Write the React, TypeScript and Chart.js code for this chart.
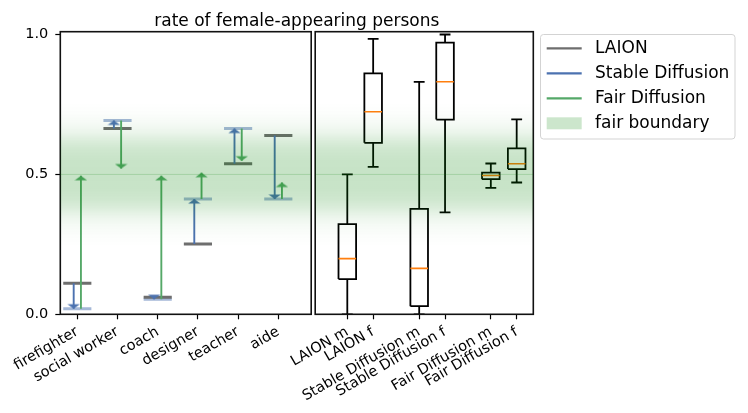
import React, { useEffect, useRef } from 'react';
import { Chart, registerables } from 'chart.js';

Chart.register(...registerables);

// ---------------- data ----------------
const occupations = ['firefighter', 'social worker', 'coach', 'designer', 'teacher', 'aide'];
const laionRates = [0.111, 0.664, 0.061, 0.251, 0.538, 0.639];
const sdRates = [0.02, 0.693, 0.054, 0.412, 0.664, 0.412];
const fdRates = [0.495, 0.521, 0.495, 0.506, 0.549, 0.471];

const boxLabels = ['LAION m', 'LAION f', 'Stable Diffusion m', 'Stable Diffusion f', 'Fair Diffusion m', 'Fair Diffusion f'];
const boxPositions = [1, 2, 3.78, 4.78, 6.55, 7.55];
const boxWhiskerLow = [0.0, 0.527, 0.0, 0.364, 0.452, 0.471];
const boxQ1 = [0.126, 0.613, 0.029, 0.696, 0.483, 0.519];
const boxMedian = [0.199, 0.724, 0.164, 0.831, 0.496, 0.538];
const boxQ3 = [0.3225, 0.861, 0.377, 0.971, 0.506, 0.593];
const boxWhiskerHigh = [0.5, 0.984, 0.831, 1.0, 0.539, 0.697];

const yTicks = [0, 0.5, 1.0];
const fairValue = 0.5;
const titleText = 'rate of female-appearing persons';
const legendLabels = ['LAION', 'Stable Diffusion', 'Fair Diffusion', 'fair boundary'];

// ---------------- style ----------------
const W = 748;
const H = 413;
const FONT = '"DejaVu Sans", "Liberation Sans", sans-serif';
const C_LAION = '#6e6e6e';
const C_SD = '#4c72b0';
const C_SD_LIGHT = 'rgba(76,114,176,0.5)';
const C_FD = '#55a868';
const C_MED = '#ff7f0e';
const TICK_FONT = { family: FONT, size: 14.5 };
const BOX_LW = 1.8;

const Y_MAX = 1.01;
const PLOT_TOP = 31.7;
const PLOT_BOTTOM = 314.3;
const LEFT_L = 60.3;
const LEFT_R = 311.2;
const RIGHT_L = 315.2;
const RIGHT_R = 533.3;

function segData(centers: number[], values: number[], half: number) {
  const out: any[] = [];
  centers.forEach((c, i) => {
    out.push({ x: c - half, y: values[i] }, { x: c + half, y: values[i] }, { x: c, y: null });
  });
  return out;
}

function arrowData(offset: number, from: number[], to: number[]) {
  const out: any[] = [];
  from.forEach((f, i) => {
    out.push(
      { x: i + offset, y: f, head: 0 },
      { x: i + offset, y: to[i], head: to[i] >= f ? 1 : -1 },
      { x: i + offset, y: null, head: 0 }
    );
  });
  return out;
}

function boxOutline() {
  const out: any[] = [];
  const w = 0.34;
  boxPositions.forEach((p, i) => {
    out.push(
      { x: p - w, y: boxQ1[i] },
      { x: p + w, y: boxQ1[i] },
      { x: p + w, y: boxQ3[i] },
      { x: p - w, y: boxQ3[i] },
      { x: p - w, y: boxQ1[i] },
      { x: p, y: null }
    );
  });
  return out;
}

function whiskerData() {
  const out: any[] = [];
  boxPositions.forEach((p, i) => {
    out.push(
      { x: p, y: boxQ3[i] },
      { x: p, y: boxWhiskerHigh[i] },
      { x: p, y: null },
      { x: p, y: boxQ1[i] },
      { x: p, y: boxWhiskerLow[i] },
      { x: p, y: null }
    );
  });
  return out;
}

function makeHead(color: string, up: boolean) {
  const c = document.createElement('canvas');
  c.width = 13;
  c.height = 12;
  const g = c.getContext('2d')!;
  g.fillStyle = color;
  g.beginPath();
  if (up) {
    g.moveTo(6.5, 6);
    g.lineTo(12.7, 10.6);
    g.lineTo(0.3, 10.6);
  } else {
    g.moveTo(6.5, 6);
    g.lineTo(12.7, 1.4);
    g.lineTo(0.3, 1.4);
  }
  g.closePath();
  g.fill();
  return c;
}

const bandPlugin = {
  id: 'bandFrame',
  afterDatasetsDraw(chart: any) {
    const { ctx, chartArea, scales } = chart;
    const y = scales.y;
    const top = y.getPixelForValue(fairValue + 0.26);
    const bot = y.getPixelForValue(fairValue - 0.26);
    // frame
    ctx.save();
    ctx.strokeStyle = '#111';
    ctx.lineWidth = 1.6;
    ctx.strokeRect(chartArea.left, chartArea.top, chartArea.right - chartArea.left, chartArea.bottom - chartArea.top);
    ctx.restore();
    // band
    ctx.save();
    ctx.beginPath();
    ctx.rect(chartArea.left, chartArea.top, chartArea.right - chartArea.left, chartArea.bottom - chartArea.top);
    ctx.clip();
    const g = ctx.createLinearGradient(0, top, 0, bot);
    const prof: [number, number][] = [
      [0, 0.22], [0.05, 0.215], [0.09, 0.19], [0.12, 0.14], [0.15, 0.08], [0.18, 0.04], [0.22, 0.012], [0.26, 0],
    ];
    const stops: [number, number][] = [];
    prof.forEach(([d, a]) => {
      stops.push([0.5 - d / 0.52, a]);
      if (d > 0) stops.push([0.5 + d / 0.52, a]);
    });
    stops.sort((a, b) => a[0] - b[0]);
    stops.forEach(([t, a]) => g.addColorStop(Math.min(1, Math.max(0, t)), `rgba(0,128,0,${a})`));
    ctx.fillStyle = g;
    ctx.fillRect(chartArea.left, top, chartArea.right - chartArea.left, bot - top);
    const y5 = y.getPixelForValue(fairValue);
    ctx.strokeStyle = 'rgba(0,128,0,0.18)';
    ctx.lineWidth = 1;
    ctx.beginPath();
    ctx.moveTo(chartArea.left, y5);
    ctx.lineTo(chartArea.right, y5);
    ctx.stroke();
    ctx.restore();
  },
};

const titlePlugin = {
  id: 'figTitle',
  afterDraw(chart: any) {
    const { ctx } = chart;
    ctx.save();
    ctx.font = `17px ${FONT}`;
    ctx.fillStyle = '#000';
    ctx.textAlign = 'center';
    ctx.textBaseline = 'alphabetic';
    ctx.fillText(titleText, (LEFT_L + RIGHT_R) / 2, 25.5);
    ctx.restore();
  },
};

const legendPlugin = {
  id: 'figLegend',
  afterDraw(chart: any) {
    const { ctx } = chart;
    ctx.save();
    const bx = 540.5, by = 34.5, bw = 194.5, bh = 104.5;
    ctx.beginPath();
    (ctx as any).roundRect(bx, by, bw, bh, 3);
    ctx.fillStyle = 'rgba(255,255,255,0.8)';
    ctx.fill();
    ctx.strokeStyle = '#d3d3d3';
    ctx.lineWidth = 1;
    ctx.stroke();
    const rows = [48.3, 73.3, 98.3, 123.3];
    const colors = [C_LAION, C_SD, C_FD];
    for (let i = 0; i < 3; i++) {
      ctx.strokeStyle = colors[i];
      ctx.lineWidth = 2.2;
      ctx.beginPath();
      ctx.moveTo(546.7, rows[i]);
      ctx.lineTo(581.7, rows[i]);
      ctx.stroke();
    }
    ctx.fillStyle = 'rgba(0,128,0,0.2)';
    ctx.fillRect(546.7, rows[3] - 6, 35, 12);
    ctx.fillStyle = '#000';
    ctx.font = `17px ${FONT}`;
    ctx.textAlign = 'left';
    ctx.textBaseline = 'middle';
    legendLabels.forEach((l, i) => ctx.fillText(l, 595, rows[i] + 0.5));
    ctx.restore();
  },
};

function tickGrid() {
  return {
    display: true,
    drawOnChartArea: false,
    drawTicks: true,
    tickLength: 5,
    tickColor: '#000',
    tickWidth: 1.2,
  };
}

function baseOptions(padding: any, xScale: any, yScale: any) {
  return {
    animation: false,
    responsive: false,
    events: [],
    layout: { padding },
    plugins: { legend: { display: false }, tooltip: { enabled: false }, title: { display: false } },
    elements: { line: { tension: 0 }, point: { radius: 0, hoverRadius: 0 } },
    scales: { x: xScale, y: yScale },
  };
}

export default function App() {
  const leftRef = useRef<HTMLCanvasElement>(null);
  const rightRef = useRef<HTMLCanvasElement>(null);

  useEffect(() => {
    const heads = {
      sdUp: makeHead(C_SD, true),
      sdDown: makeHead(C_SD, false),
      fdUp: makeHead(C_FD, true),
      fdDown: makeHead(C_FD, false),
    };
    const headStyle = (up: HTMLCanvasElement, down: HTMLCanvasElement) => (ctx: any) => {
      const r = ctx.raw;
      if (!r || !r.head) return 'circle';
      return r.head > 0 ? up : down;
    };
    const headRadius = (ctx: any) => (ctx.raw && ctx.raw.head ? 3 : 0);

    const xLeft = {
      type: 'linear',
      min: -0.423,
      max: 5.818,
      border: { display: false },
      grid: tickGrid(),
      afterBuildTicks: (s: any) => {
        s.ticks = occupations.map((_, i) => ({ value: i }));
      },
      afterFit: (s: any) => {
        s.height = H - PLOT_BOTTOM;
      },
      ticks: {
        autoSkip: false,
        minRotation: 30,
        maxRotation: 30,
        padding: 4,
        color: '#000',
        font: TICK_FONT,
        callback: (_v: any, i: number) => occupations[i],
      },
    };
    const yLeft = {
      type: 'linear',
      min: 0,
      max: Y_MAX,
      border: { display: false },
      grid: tickGrid(),
      afterBuildTicks: (s: any) => {
        s.ticks = yTicks.map((v) => ({ value: v }));
      },
      afterFit: (s: any) => {
        s.width = LEFT_L;
      },
      ticks: {
        padding: 7,
        color: '#000',
        font: TICK_FONT,
        callback: (v: any) => Number(v).toFixed(1),
      },
    };

    const left = new Chart(leftRef.current!, {
      type: 'line',
      data: {
        datasets: [
          {
            data: arrowData(0.09, sdRates, fdRates),
            borderColor: C_FD,
            borderWidth: 1.9,
            pointStyle: headStyle(heads.fdUp, heads.fdDown),
            pointRadius: headRadius,
            order: 0,
          },
          {
            data: arrowData(-0.09, laionRates, sdRates),
            borderColor: C_SD,
            borderWidth: 1.9,
            pointStyle: headStyle(heads.sdUp, heads.sdDown),
            pointRadius: headRadius,
            order: 1,
          },
          {
            data: segData(occupations.map((_, i) => i), laionRates, 0.35),
            borderColor: C_LAION,
            borderWidth: 3,
            pointRadius: 0,
            order: 2,
          },
          {
            data: segData(occupations.map((_, i) => i), sdRates, 0.35),
            borderColor: C_SD_LIGHT,
            borderWidth: 3,
            pointRadius: 0,
            order: 3,
          },
        ],
      },
      options: baseOptions({ left: 0, top: PLOT_TOP, right: W - LEFT_R, bottom: 0 }, xLeft, yLeft) as any,
      plugins: [bandPlugin, titlePlugin],
    } as any);

    const unit = 25.86;
    const xRight = {
      type: 'linear',
      min: 1 - (347.3 - RIGHT_L) / unit,
      max: 1 + (RIGHT_R - 347.3) / unit,
      border: { display: false },
      grid: tickGrid(),
      afterBuildTicks: (s: any) => {
        s.ticks = boxPositions.map((v) => ({ value: v }));
      },
      afterFit: (s: any) => {
        s.height = H - PLOT_BOTTOM;
      },
      ticks: {
        autoSkip: false,
        minRotation: 30,
        maxRotation: 30,
        padding: 4,
        color: '#000',
        font: TICK_FONT,
        callback: (_v: any, i: number) => boxLabels[i],
      },
    };
    const yRight = { type: 'linear', display: false, min: 0, max: Y_MAX };

    const right = new Chart(rightRef.current!, {
      type: 'line',
      data: {
        datasets: [
          { data: segData(boxPositions, boxMedian, 0.34), borderColor: C_MED, borderWidth: 1.6, pointRadius: 0, order: 0 },
          { data: boxOutline(), borderColor: '#000', borderWidth: BOX_LW, pointRadius: 0, order: 1 },
          { data: whiskerData(), borderColor: '#000', borderWidth: BOX_LW, pointRadius: 0, order: 2 },
          { data: segData(boxPositions, boxWhiskerHigh, 0.21), borderColor: '#000', borderWidth: BOX_LW, pointRadius: 0, order: 3 },
          { data: segData(boxPositions, boxWhiskerLow, 0.21), borderColor: '#000', borderWidth: BOX_LW, pointRadius: 0, order: 4 },
        ],
      },
      options: baseOptions({ left: RIGHT_L, top: PLOT_TOP, right: W - RIGHT_R, bottom: 0 }, xRight, yRight) as any,
      plugins: [bandPlugin, legendPlugin],
    } as any);

    return () => {
      left.destroy();
      right.destroy();
    };
  }, []);

  const cs: React.CSSProperties = { position: 'absolute', left: 0, top: 0, width: W, height: H };
  return (
    <div style={{ position: 'absolute', left: 0, top: 0, width: W, height: H, background: '#fff' }}>
      <canvas ref={leftRef} width={W} height={H} style={cs} />
      <canvas ref={rightRef} width={W} height={H} style={cs} />
    </div>
  );
}
